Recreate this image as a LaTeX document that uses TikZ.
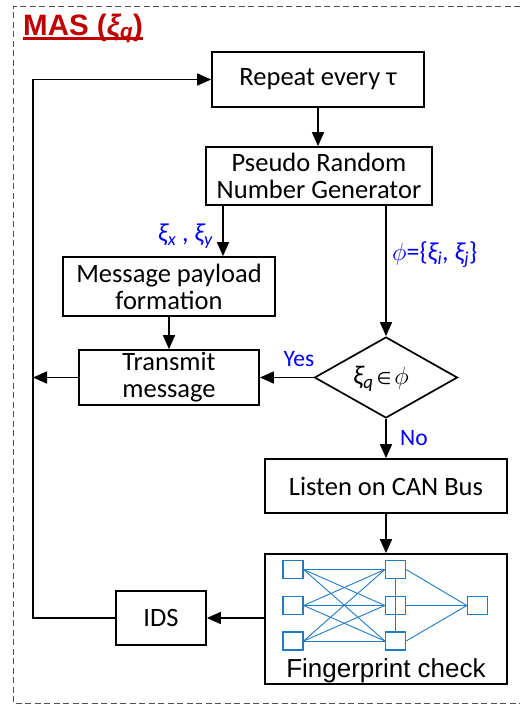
\documentclass[tikz,border=0pt]{standalone}
\usepackage{fontspec}
\setmainfont{Carlito}
\newfontfamily\arialfont{Liberation Sans}
\newfontfamily\dejavu{DejaVu Sans}
\usetikzlibrary{arrows.meta,shapes.geometric,calc}
\definecolor{frameGray}{HTML}{505050}
\definecolor{titleRed}{HTML}{C00000}
\definecolor{labelBlue}{HTML}{0000FF}
\definecolor{netBlue}{HTML}{1F7BC8}
\tikzset{
  box/.style={draw, line width=1.7pt, inner sep=0pt, align=center,
              font=\fontsize{26.5}{27}\selectfont},
  flow/.style={line width=1.6pt, -{Triangle[length=14pt,width=12pt]}},
  lbl/.style={text=labelBlue, font=\fontsize{26}{26}\selectfont, inner sep=0pt},
  answer/.style={text=labelBlue, font=\fontsize{23.5}{24}\selectfont, inner sep=0pt},
  neuron/.style={draw=netBlue, line width=1.2pt, minimum width=20pt,
                 minimum height=18pt, inner sep=0pt},
  synapse/.style={draw=netBlue, line width=0.9pt},
}
\begin{document}
\begin{tikzpicture}[x=1pt,y=-1pt]
\useasboundingbox (0,0) rectangle (520,705);

% dashed agent frame
\draw[frameGray, line width=1pt, dash pattern=on 6pt off 3.5pt]
  (520,6) -- (13,6) -- (13,703) -- (520,703);

% title
\node[anchor=base west, inner sep=0pt, text=titleRed,
      font=\arialfont\bfseries\fontsize{29.5}{30}\selectfont] (title) at (23,35)
  {MAS (\textit{ξ\textsubscript{q}})};
\draw[titleRed, line width=2.4pt]
  ([yshift=-3.5pt]title.base west) -- ([yshift=-3.5pt]title.base east);

% flowchart boxes
\node[box, minimum width=212pt, minimum height=55pt] (rep) at (318,79.5) {Repeat every τ};
\node[box, minimum width=226pt, minimum height=58pt] (prng) at (319,176)
  {Pseudo Random\\Number Generator};
\node[box, minimum width=212pt, minimum height=59pt] (msg) at (169,286.5)
  {Message payload\\formation};
\node[box, minimum width=180pt, minimum height=55pt] (tx) at (169,377.5)
  {Transmit\\message};
\node[box, shape=diamond, aspect=1.76, minimum width=143pt, minimum height=81pt] (dia)
  at (386,377.5) {};
\node[inner sep=0pt, font=\fontsize{27}{27}\selectfont] (diatxt) at (381,379)
  {\textit{ξ\textsubscript{q}}\hspace{3pt}{\dejavu\fontsize{17}{17}\selectfont ∈}\hspace{3pt}$\phi$};
\node[box, minimum width=242pt, minimum height=54pt] (listen) at (386,486) {Listen on CAN Bus};
\node[box, minimum width=242pt, minimum height=130pt] (fp) at (386,619) {};
\node[anchor=base, inner sep=0pt, font=\arialfont\fontsize{26}{28}\selectfont] (fptxt)
  at (386,677) {Fingerprint check};
\node[box, minimum width=90pt, minimum height=54pt] (ids) at (161,618) {IDS};

% small neural network inside the fingerprint box
\foreach \i/\y in {1/569.5,2/605.5,3/641} {
  \node[neuron] (a\i) at (293,\y) {};
  \node[neuron] (b\i) at (395.5,\y) {};
}
\node[neuron] (c) at (477.5,605.5) {};
\foreach \i in {1,2,3} \foreach \j in {1,2,3} \draw[synapse] (a\i.east) -- (b\j.west);
\draw[synapse] (b1.south) -- (b3.north);
\foreach \j in {1,2,3} \draw[synapse] (b\j.east) -- (c.west);

% connectors
\coordinate (lft) at (33,0);
\coordinate (splitL) at (223,0);
\draw[flow] (rep.south) -- (rep.south |- prng.north);
\draw[flow] (prng.south -| splitL) -- (msg.north -| splitL);
\draw[flow] (prng.south -| dia.north) -- (dia.north);
\draw[flow] (msg.south) -- (tx.north);
\draw[flow] (tx.west) -- (tx.west -| lft);
\draw[flow] (dia.west) -- (tx.east);
\draw[flow] (dia.south) -- (listen.north);
\draw[flow] (listen.south) -- (fp.north);
\draw[flow] (ids.east -| fp.west) -- (ids.east);
\draw[flow] (ids.west) -- (ids.west -| lft) -- (rep.west -| lft) -- (rep.west);

% labels
\node[lbl, anchor=east] (lxy) at (213,236)
  {\textit{ξ\textsubscript{x}} , \textit{ξ\textsubscript{y}}};
\node[lbl, anchor=west] (lphi) at (392,255)
  {$\phi$=\{\textit{ξ\textsubscript{i}}, \textit{ξ\textsubscript{j}}\}};
\node[answer, anchor=base] (lyes) at (299,366) {Yes};
\node[answer, anchor=base west] (lno) at (400,445) {No};
\end{tikzpicture}
\end{document}
